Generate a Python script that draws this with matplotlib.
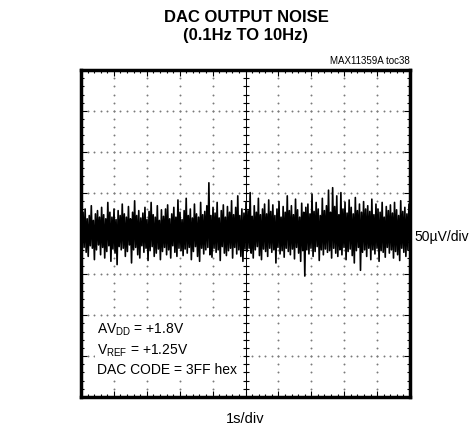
import numpy as np
import matplotlib
matplotlib.use("Agg")
import matplotlib.pyplot as plt
from matplotlib import font_manager

# noise trace, microvolts (10 s, 0.1Hz to 10Hz)
noise_uv = [
    14, -20, 26, -17, 30, -23, 18, -28, 22, -15, 34, -18, 16, -32, 24, -20, 28, -14, 20, -26,
    32, -17, 23, -30, 18, -22, 38, -15, 26, -34, 20, -19, 30, -24, 17, -38, 28, -16, 22, -20,
    36, -18, 24, -28, 20, -22, 33, -14, 18, -36, 26, -20, 40, -17, 22, -26, 28, -30, 19, -15,
    25, -23, 32, -18, 17, -33, 27, -21, 38, -16, 23, -28, 20, -24, 34, -19, 16, -32, 29, -22,
    21, -17, 30, -26, 35, -20, 18, -30, 24, -15, 32, -23, 20, -28, 41, -18, 26, -21, 17, -27,
    28, -19, 43, -24, 22, -17, 30, -32, 19, -22, 36, -16, 24, -28, 20, -34, 38, -18, 23, -25,
    27, -20, 34, -17, 62, -26, 22, -29, 32, -18, 25, -23, 38, -20, 19, -33, 28, -16, 35, -24,
    20, -27, 33, -21, 26, -18, 40, -30, 23, -17, 32, -25, 46, -20, 22, -28, 30, -34, 25, -19,
    38, -22, 28, -18, 50, -24, 21, -30, 34, -20, 26, -16, 43, -27, 23, -32, 30, -19, 36, -22,
    24, -28, 41, -18, 27, -23, 35, -20, 22, -36, 30, -17, 39, -25, 20, -21, 33, -29, 26, -18,
    46, -22, 28, -26, 34, -19, 23, -31, 42, -17, 29, -24, 20, -34, 37, -21, 26, -52, 32, -20,
    36, -25, 24, -18, 48, -28, 27, -22, 38, -16, 30, -33, 22, -20, 43, -26, 28, -19, 34, -23,
    53, -21, 26, -30, 56, -18, 33, -24, 46, -28, 23, -20, 50, -26, 30, -17, 38, -32, 25, -22,
    41, -19, 32, -27, 24, -36, 44, -21, 28, -17, 36, -45, 26, -23, 39, -20, 30, -28, 34, -18,
    27, -32, 42, -20, 23, -25, 36, -18, 30, -34, 26, -21, 38, -23, 20, -29, 33, -17, 28, -24,
    35, -20, 25, -30, 38, -22, 29, -26, 22, -33, 40, -18, 27, -23, 32, -28, 24, -20, 36, -16,
]
t_span_s = 10.0          # 1s/div x 10 div
v_span_uv = 400.0        # 50uV/div x 8 div
x_divs = 10
y_divs = 8

title = "DAC OUTPUT NOISE\n(0.1Hz TO 10Hz)"
toc_label = "MAX11359A toc38"
x_label = "1s/div"
y_label = "50\u00b5V/div"
conditions = [r"AV$_{\mathrm{DD}}$ = +1.8V", r"V$_{\mathrm{REF}}$ = +1.25V", "DAC CODE = 3FF hex"]

installed = {f.name for f in font_manager.fontManager.ttflist}
narrow = "Liberation Sans Narrow" if "Liberation Sans Narrow" in installed else "Liberation Sans"
plt.rcParams["font.family"] = [narrow, "DejaVu Sans"]
plt.rcParams["mathtext.fontset"] = "custom"
plt.rcParams["mathtext.rm"] = narrow

fig = plt.figure(figsize=(4.77, 4.30), dpi=100)
ax = fig.add_axes([81 / 477, 1 - 397 / 430, 329 / 477, 327 / 430])

t = np.linspace(0, t_span_s, len(noise_uv))
ax.plot(t, noise_uv, color="black", lw=1.2, zorder=3)

x_major = np.linspace(0, t_span_s, x_divs + 1)
y_major = np.linspace(-v_span_uv / 2, v_span_uv / 2, y_divs + 1)
x_minor = np.linspace(0, t_span_s, x_divs * 5 + 1)
y_minor = np.linspace(-v_span_uv / 2, v_span_uv / 2, y_divs * 5 + 1)

# dotted graticule
for xv in x_major[1:-1]:
    ax.plot(np.full(len(y_minor), xv), y_minor, ls="none", marker="o", ms=1.4,
            mec="none", mfc="#7a7a7a", zorder=1)
for yv in y_major[1:-1]:
    ax.plot(x_minor, np.full(len(x_minor), yv), ls="none", marker="o", ms=1.4,
            mec="none", mfc="#7a7a7a", zorder=1)

# centre axes with cross ticks
xc = t_span_s / 2
ax.axvline(xc, color="black", lw=0.7, zorder=2)
ax.axhline(0, color="black", lw=0.7, zorder=2)
ax.plot(np.full(len(y_minor), xc), y_minor, ls="none", marker="_", ms=5, mew=0.8,
        color="black", zorder=2)
ax.plot(x_minor, np.zeros(len(x_minor)), ls="none", marker="|", ms=5, mew=0.8,
        color="black", zorder=2)

ax.set_xlim(0, t_span_s)
ax.set_ylim(-v_span_uv / 2, v_span_uv / 2)
ax.set_xticks(x_major)
ax.set_yticks(y_major)
ax.set_xticks(x_minor, minor=True)
ax.set_yticks(y_minor, minor=True)
ax.tick_params(which="both", direction="in", top=True, right=True,
               labelbottom=False, labelleft=False, width=0.8)
ax.tick_params(which="major", length=4)
ax.tick_params(which="minor", length=2.5)
for s in ax.spines.values():
    s.set_linewidth(2.5)

ax.text(0.5, -0.045, x_label, transform=ax.transAxes, ha="center", va="top", fontsize=10.5)
ax.text(1.015, 0.49, y_label, transform=ax.transAxes, ha="left", va="center", fontsize=10)
ax.text(1.0, 1.012, toc_label, transform=ax.transAxes, ha="right", va="bottom", fontsize=7)
fig.text(246 / 477, 1 - 10 / 430, title, ha="center", va="top", fontsize=12,
         fontweight="bold", linespacing=1.25)

ax.text(0.05, 0.06, "\n".join(conditions), transform=ax.transAxes, ha="left", va="bottom",
        fontsize=10, linespacing=1.4, zorder=4,
        bbox=dict(facecolor="white", edgecolor="none", pad=2))

fig.savefig("out.png", dpi=100)
